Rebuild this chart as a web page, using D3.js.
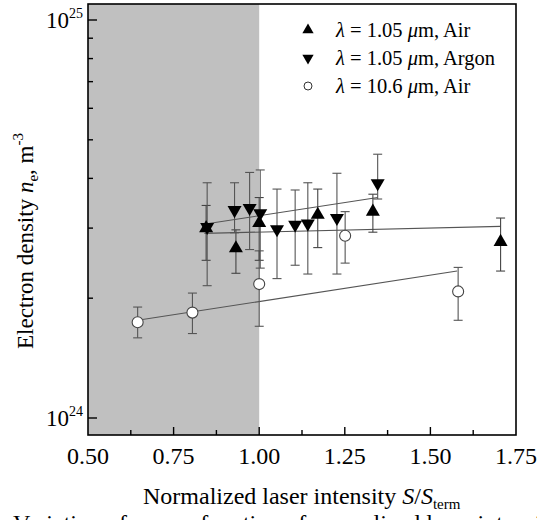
<!DOCTYPE html>
<html>
<head>
<meta charset="utf-8">
<script src="https://cdn.jsdelivr.net/npm/d3@7"></script>
<style>
  body { margin: 0; background: #fff; }
  svg { display: block; font-family: "Liberation Serif", "Times New Roman", serif; }
</style>
</head>
<body>
<div class="canvas"></div>
<script>
// lambda = 1.05 um, Air (up triangles), values in 1e24 m^-3
const airX  = [0.845, 0.932, 1.000, 1.171, 1.332, 1.705];
const airY  = [3.00, 2.67, 3.09, 3.24, 3.30, 2.77];
const airLo = [2.49, 2.31, 2.49, 2.68, 2.93, 2.34];
const airHi = [3.42, 2.97, 3.58, 3.76, 3.65, 3.18];

// lambda = 1.05 um, Argon (down triangles)
const argonX  = [0.848, 0.928, 0.972, 1.003, 1.052, 1.105, 1.142, 1.227, 1.346];
const argonY  = [3.02, 3.33, 3.37, 3.27, 2.98, 3.06, 3.08, 3.18, 3.89];
const argonLo = [2.15, 2.92, 2.65, 2.38, 2.24, 2.42, 2.30, 2.30, 3.55];
const argonHi = [3.90, 3.90, 4.14, 4.20, 3.76, 3.74, 3.90, 4.12, 4.60];

// lambda = 10.6 um, Air (open circles)
const co2X  = [0.645, 0.805, 1.000, 1.251, 1.581];
const co2Y  = [1.74, 1.84, 2.17, 2.87, 2.08];
const co2Lo = [1.59, 1.63, 1.70, 2.45, 1.76];
const co2Hi = [1.90, 2.06, 2.63, 3.30, 2.39];

// fit lines (end points)
const airFitX = [0.84, 1.705],   airFitY = [2.91, 3.03];
const argonFitX = [0.852, 1.346], argonFitY = [3.08, 3.58];
const co2FitX = [0.645, 1.578],  co2FitY = [1.76, 2.34];

const xTicks = [0.5, 0.75, 1.0, 1.25, 1.5, 1.75];
const xMinor = [0.625, 0.875, 1.125, 1.375, 1.625];
const yTicks = [1e24, 1e25];
const yTickExp = ['24', '25'];
const yMinor = [2, 3, 4, 5, 6, 7, 8, 9].map(d => d * 1e24);

const dims = { width: 537, height: 520 };
const frame = { left: 88, right: 516, top: 4, bottom: 435 };

const svg = d3.select('.canvas')
    .append('svg')
    .attr('width', dims.width)
    .attr('height', dims.height);

const x = d3.scaleLinear()
    .domain([0.5, 1.75])
    .range([frame.left, frame.right]);

const y = d3.scaleLog()
    .domain([1e24, 1e25])
    .range([418, 20]);

const toRows = (xs, ys, lo, hi) => xs.map((d, i) => ({
    x: d, y: ys[i] * 1e24, lo: lo[i] * 1e24, hi: hi[i] * 1e24
}));

const air = toRows(airX, airY, airLo, airHi);
const argon = toRows(argonX, argonY, argonLo, argonHi);
const co2 = toRows(co2X, co2Y, co2Lo, co2Hi);

// shaded region below threshold
svg.append('rect')
    .attr('x', x(0.5))
    .attr('y', frame.top)
    .attr('width', x(1.0) - x(0.5))
    .attr('height', frame.bottom - frame.top)
    .attr('fill', '#c0c0c0');

// fit lines
const fits = [[airFitX, airFitY], [argonFitX, argonFitY], [co2FitX, co2FitY]];
fits.forEach(([fx, fy]) => {
    svg.append('line')
        .attr('x1', x(fx[0])).attr('y1', y(fy[0] * 1e24))
        .attr('x2', x(fx[1])).attr('y2', y(fy[1] * 1e24))
        .attr('stroke', '#555')
        .attr('stroke-width', 1.1);
});

// error bars
const drawErrors = (rows, color) => {
    const g = svg.append('g')
        .attr('stroke', color)
        .attr('stroke-width', 1.1);
    rows.forEach(d => {
        const cx = x(d.x);
        g.append('line').attr('x1', cx).attr('x2', cx)
            .attr('y1', y(d.lo)).attr('y2', y(d.hi));
        [d.lo, d.hi].forEach(v => {
            g.append('line').attr('x1', cx - 4.5).attr('x2', cx + 4.5)
                .attr('y1', y(v)).attr('y2', y(v));
        });
    });
};
drawErrors(co2, '#555');
drawErrors(air, '#444');
drawErrors(argon, '#555');

// markers
const triUp = d3.symbol().type(d3.symbolTriangle).size(85);
const triLegend = d3.symbol().type(d3.symbolTriangle).size(55);

const drawTriangles = (rows, flip) => {
    svg.append('g').selectAll('path')
        .data(rows)
        .enter()
        .append('path')
        .attr('d', triUp)
        .attr('transform', d => `translate(${x(d.x)}, ${y(d.y)})${flip ? ' rotate(180)' : ''}`)
        .attr('fill', '#000');
};
drawTriangles(air, false);
drawTriangles(argon, true);

svg.append('g').selectAll('circle')
    .data(co2)
    .enter()
    .append('circle')
    .attr('cx', d => x(d.x))
    .attr('cy', d => y(d.y))
    .attr('r', 5.5)
    .attr('fill', '#fff')
    .attr('stroke', '#444')
    .attr('stroke-width', 1.1);

// frame
svg.append('rect')
    .attr('x', frame.left)
    .attr('y', frame.top)
    .attr('width', frame.right - frame.left)
    .attr('height', frame.bottom - frame.top)
    .attr('fill', 'none')
    .attr('stroke', '#000')
    .attr('stroke-width', 1.6);

// x ticks (inward)
svg.append('g').selectAll('line')
    .data(xTicks.slice(1, -1))
    .enter().append('line')
    .attr('x1', d => x(d)).attr('x2', d => x(d))
    .attr('y1', frame.bottom).attr('y2', frame.bottom - 8)
    .attr('stroke', '#000').attr('stroke-width', 1.4);

svg.append('g').selectAll('line')
    .data(xMinor)
    .enter().append('line')
    .attr('x1', d => x(d)).attr('x2', d => x(d))
    .attr('y1', frame.bottom).attr('y2', frame.bottom - 5)
    .attr('stroke', '#000').attr('stroke-width', 1.4);

svg.append('g').selectAll('text')
    .data(xTicks)
    .enter().append('text')
    .attr('x', d => x(d))
    .attr('y', 464)
    .attr('text-anchor', 'middle')
    .attr('font-size', 24)
    .text(d3.format('.2f'));

// y ticks (inward)
svg.append('g').selectAll('line')
    .data(yTicks)
    .enter().append('line')
    .attr('x1', frame.left).attr('x2', frame.left + 9)
    .attr('y1', d => y(d)).attr('y2', d => y(d))
    .attr('stroke', '#000').attr('stroke-width', 1.4);

svg.append('g').selectAll('line')
    .data(yMinor)
    .enter().append('line')
    .attr('x1', frame.left).attr('x2', frame.left + 5)
    .attr('y1', d => y(d)).attr('y2', d => y(d))
    .attr('stroke', '#000').attr('stroke-width', 1.4);

const yLabels = svg.append('g').selectAll('text')
    .data(yTicks)
    .enter().append('text')
    .attr('x', 83)
    .attr('y', d => y(d) + 8)
    .attr('text-anchor', 'end')
    .attr('font-size', 23);
yLabels.append('tspan').text('10');
yLabels.append('tspan')
    .attr('font-size', 14)
    .attr('dy', -10)
    .text((d, i) => yTickExp[i]);

// axis titles
const xTitle = svg.append('text')
    .attr('x', 143)
    .attr('y', 504)
    .attr('font-size', 24);
xTitle.append('tspan').text('Normalized laser intensity ');
xTitle.append('tspan').attr('font-style', 'italic').text('S');
xTitle.append('tspan').text('/');
xTitle.append('tspan').attr('font-style', 'italic').text('S');
xTitle.append('tspan').attr('font-size', 15).attr('dy', 5).text('term');

const yTitle = svg.append('text')
    .attr('transform', 'translate(33, 241) rotate(-90)')
    .attr('text-anchor', 'middle')
    .attr('font-size', 23);
yTitle.append('tspan').text('Electron density ');
yTitle.append('tspan').attr('font-style', 'italic').text('n');
yTitle.append('tspan').attr('font-size', 15).attr('dy', 5).text('e');
yTitle.append('tspan').attr('dy', -5).text(', m');
yTitle.append('tspan').attr('font-size', 15).attr('dy', -10).text('-3');

// caption (cut off by the window, as in the source figure)
const caption = svg.append('text')
    .attr('x', 13)
    .attr('y', 531)
    .attr('font-size', 24);
caption.append('tspan').text('Variation of ');
caption.append('tspan').attr('font-style', 'italic').text('n');
caption.append('tspan').attr('font-size', 15).attr('dy', 5).text('e');
caption.append('tspan').attr('dy', -5).text(' as a function of normalized laser intensity');

// legend
const legendItems = [
    { type: 'up', wl: '1.05', gas: 'Air' },
    { type: 'down', wl: '1.05', gas: 'Argon' },
    { type: 'circle', wl: '10.6', gas: 'Air' }
];

const legend = svg.append('g');
legendItems.forEach((d, i) => {
    const cy = 30 + i * 28;
    if (d.type === 'circle') {
        legend.append('circle')
            .attr('cx', 308).attr('cy', cy).attr('r', 4)
            .attr('fill', '#fff').attr('stroke', '#333').attr('stroke-width', 1);
    } else {
        legend.append('path')
            .attr('d', triLegend)
            .attr('transform', `translate(308, ${cy})${d.type === 'down' ? ' rotate(180)' : ''}`)
            .attr('fill', '#000');
    }
    const t = legend.append('text')
        .attr('x', 336)
        .attr('y', cy + 7)
        .attr('font-size', 20.5);
    t.append('tspan').attr('font-style', 'italic').text('λ');
    t.append('tspan').text(` = ${d.wl} `);
    t.append('tspan').attr('font-style', 'italic').text('μ');
    t.append('tspan').text(`m, ${d.gas}`);
});
</script>
</body>
</html>
